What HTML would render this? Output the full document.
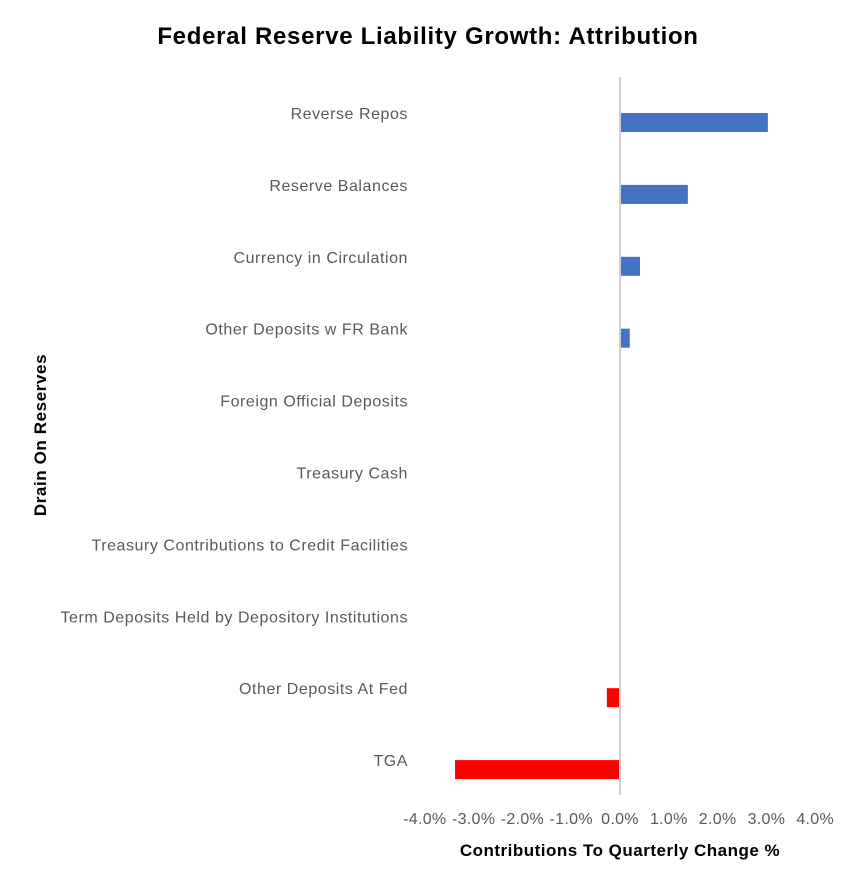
<!DOCTYPE html>
<html><head><meta charset="utf-8"><style>
body{margin:0;background:#fff;}
svg text{font-family:"Liberation Sans","DejaVu Sans",sans-serif;}
</style></head><body>
<svg width="857" height="887" xmlns="http://www.w3.org/2000/svg">
<text x="428" y="44" text-anchor="middle" font-size="24" font-weight="bold" fill="#000" letter-spacing="0.7">Federal Reserve Liability Growth: Attribution</text>
<text transform="translate(46,435) rotate(-90)" text-anchor="middle" font-size="17" font-weight="bold" fill="#000" letter-spacing="0.6">Drain On Reserves</text>
<text x="620" y="856" text-anchor="middle" font-size="17" font-weight="bold" fill="#000" letter-spacing="0.5">Contributions To Quarterly Change %</text>
<g id="plot"></g>
</svg>
<script>
const categories=["Reverse Repos","Reserve Balances","Currency in Circulation","Other Deposits w FR Bank","Foreign Official Deposits","Treasury Cash","Treasury Contributions to Credit Facilities","Term Deposits Held by Depository Institutions","Other Deposits At Fed","TGA"];
const values=[3.03,1.39,0.41,0.2,0,0,0,0,-0.27,-3.38];
const ticks=[-4,-3,-2,-1,0,1,2,3,4];
const tickLabels=["-4.0%","-3.0%","-2.0%","-1.0%","0.0%","1.0%","2.0%","3.0%","4.0%"];
const NS="http://www.w3.org/2000/svg";
const g=document.getElementById('plot');
const x=v=>620+v*48.8;
const rowY=i=>113+i*71.9;
function mk(t,a){const e=document.createElementNS(NS,t);for(const k in a)e.setAttribute(k,a[k]);g.appendChild(e);return e;}
categories.forEach((c,i)=>{
  const t=mk('text',{x:408,y:rowY(i)+6,'text-anchor':'end','font-size':16,'letter-spacing':0.55,fill:'#595959'});
  t.textContent=c;
  
  
  const v=values[i];
  if(v!==0){
    const r=mk('rect',{x:Math.min(x(0),x(v)),y:rowY(i),width:Math.abs(x(v)-x(0)),height:19,fill:v>0?'#4472C4':'#FF0000'});
    
    
  }
});
const ax=mk('line',{x1:x(0),x2:x(0),y1:77,y2:795,stroke:'#d0d0d0','stroke-width':2});


ticks.forEach((v,i)=>{
  const t=mk('text',{x:x(v),y:824,'text-anchor':'middle','font-size':16,'letter-spacing':0.3,fill:'#595959'});
  t.textContent=tickLabels[i];
  
  
});
</script>
</body></html>
